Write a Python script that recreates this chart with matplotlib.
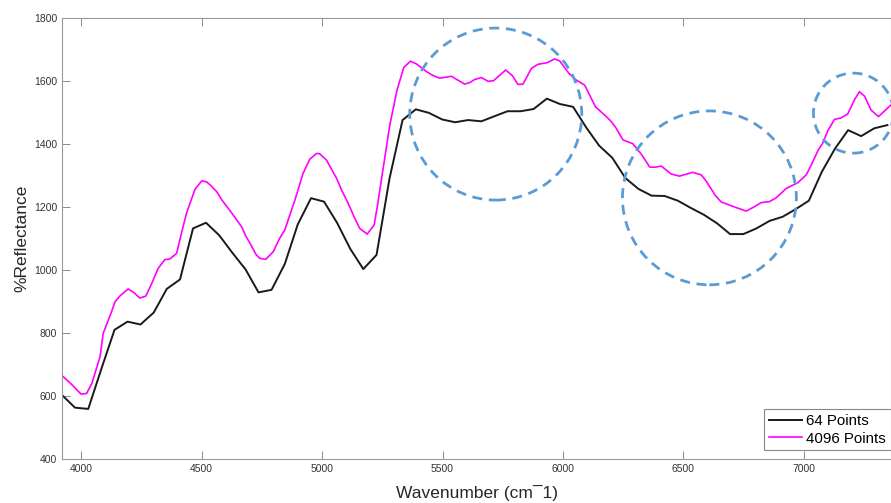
import matplotlib
matplotlib.use('Agg')
import matplotlib.pyplot as plt
from matplotlib.patches import Ellipse

plt.rcParams['font.family'] = ['Liberation Sans', 'DejaVu Sans']

# 64-point spectrum (wavenumber, %reflectance)
wn_64 = [3920, 3974, 4029, 4083, 4138, 4192, 4246, 4301, 4355, 4410,
         4464, 4518, 4573, 4627, 4682, 4736, 4790, 4845, 4899, 4954,
         5008, 5062, 5117, 5171, 5226, 5280, 5334, 5389, 5443, 5498,
         5552, 5606, 5661, 5715, 5770, 5824, 5878, 5933, 5987, 6042,
         6096, 6150, 6205, 6259, 6314, 6368, 6422, 6477, 6531, 6586,
         6640, 6694, 6749, 6803, 6858, 6912, 6966, 7021, 7075, 7130,
         7184, 7238, 7293, 7347]
refl_64 = [603, 563, 559, 685, 810, 836, 827, 865, 940, 970,
           1132, 1150, 1110, 1055, 1002, 929, 937, 1019, 1145, 1228,
           1217, 1150, 1067, 1003, 1048, 1291, 1476, 1510, 1499, 1478,
           1469, 1476, 1472, 1488, 1504, 1504, 1511, 1544, 1527, 1518,
           1453, 1395, 1356, 1292, 1257, 1236, 1235, 1220, 1197, 1175,
           1148, 1114, 1114, 1132, 1156, 1169, 1193, 1220, 1312, 1386,
           1444, 1425, 1450, 1460]

wn_4096 = [3920, 3961, 3999, 4022, 4044, 4078, 4091, 4126, 4140, 4161,
           4195, 4219, 4243, 4268, 4293, 4319, 4347, 4368, 4396, 4417,
           4437, 4472, 4500, 4520, 4538, 4562, 4584, 4610, 4638, 4666,
           4683, 4707, 4725, 4741, 4766, 4797, 4824, 4845, 4866, 4887,
           4921, 4949, 4977, 4990, 5018, 5060, 5082, 5108, 5131, 5156,
           5187, 5216, 5231, 5246, 5264, 5281, 5311, 5339, 5367, 5392,
           5433, 5459, 5488, 5537, 5563, 5592, 5613, 5634, 5661, 5689,
           5712, 5737, 5762, 5790, 5813, 5834, 5869, 5896, 5934, 5965,
           5986, 6025, 6055, 6090, 6111, 6135, 6180, 6202, 6221, 6249,
           6290, 6325, 6360, 6380, 6408, 6449, 6484, 6539, 6574, 6592,
           6615, 6633, 6657, 6705, 6761, 6795, 6823, 6857, 6885, 6927,
           6975, 7010, 7032, 7058, 7078, 7099, 7127, 7155, 7182, 7210,
           7231, 7252, 7279, 7310, 7363]
refl_4096 = [665, 636, 606, 608, 640, 725, 799, 868, 899, 918,
             940, 928, 911, 917, 958, 1005, 1033, 1035, 1053, 1120,
             1180, 1256, 1283, 1280, 1268, 1249, 1222, 1196, 1167, 1137,
             1108, 1076, 1050, 1037, 1034, 1058, 1101, 1127, 1175, 1222,
             1307, 1352, 1370, 1369, 1349, 1291, 1252, 1212, 1172, 1132,
             1114, 1143, 1210, 1286, 1375, 1460, 1571, 1643, 1663, 1654,
             1630, 1618, 1609, 1615, 1603, 1590, 1595, 1605, 1611, 1599,
             1601, 1618, 1635, 1617, 1589, 1590, 1640, 1653, 1658, 1670,
             1664, 1624, 1603, 1587, 1555, 1518, 1487, 1470, 1450, 1413,
             1401, 1368, 1327, 1326, 1330, 1305, 1298, 1310, 1302, 1285,
             1258, 1236, 1216, 1202, 1187, 1201, 1214, 1217, 1229, 1259,
             1277, 1302, 1335, 1378, 1402, 1441, 1478, 1483, 1495, 1540,
             1566, 1552, 1508, 1487, 1525]

series_labels = ['64 Points', '4096 Points']

# highlighted regions: centre (wavenumber, reflectance), width, height
circle_centres = [(5721, 1495), (6608, 1229), (7206, 1498)]
circle_sizes = [(714, 546), (722, 552), (332, 254)]

fig = plt.figure(figsize=(8.91, 5.03), dpi=100)
ax = fig.add_axes([62 / 891, 44 / 503, 829 / 891, 441 / 503])

ax.plot(wn_64, refl_64, color='#1a1a1a', lw=1.4, label=series_labels[0])
ax.plot(wn_4096, refl_4096, color='#ff00ff', lw=1.2, label=series_labels[1])

for c, (w, h) in zip(circle_centres, circle_sizes):
    ax.add_patch(Ellipse(c, w, h, fill=False, edgecolor='#5b9bd5', lw=2.0,
                         linestyle=(0, (3.6, 2.4)), zorder=3, clip_on=False))

ax.set_xlim(3920, 7362)
ax.set_ylim(400, 1800)
ax.set_xticks([4000, 4500, 5000, 5500, 6000, 6500, 7000])
ax.set_yticks(range(400, 1801, 200))
ax.tick_params(direction='in', length=6, width=0.7, colors='#888888',
               labelcolor='#333333', labelsize=7.5, top=True, right=False)
for s in ax.spines.values():
    s.set_color('#999999')
    s.set_linewidth(0.8)

ax.set_xlabel('Wavenumber (cm\u00af1)', fontsize=12.5, color='#262626', labelpad=8)
ax.set_ylabel('%Reflectance', fontsize=12.5, color='#262626', labelpad=3)

leg = ax.legend(loc='lower right', bbox_to_anchor=(0.9995, 0.02), borderaxespad=0,
                fancybox=False, framealpha=1, edgecolor='#888888', fontsize=10.8,
                handlelength=2.2, handletextpad=0.3, labelspacing=0.25,
                borderpad=0.3)
leg.get_frame().set_linewidth(0.8)

fig.savefig('out.png', dpi=100)
